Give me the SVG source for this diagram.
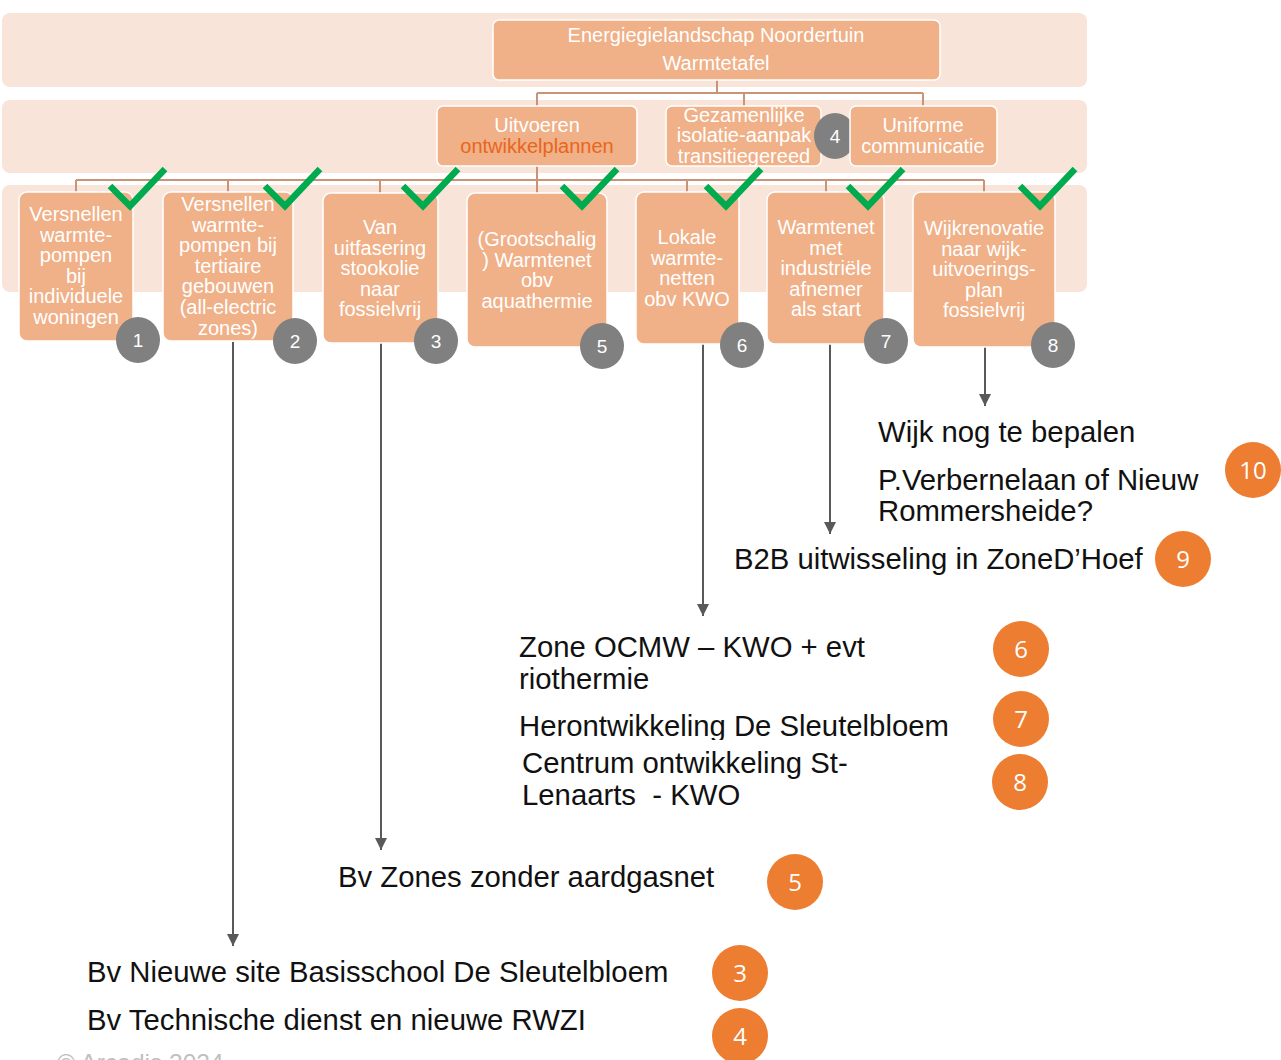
<svg xmlns="http://www.w3.org/2000/svg" width="1281" height="1060" viewBox="0 0 1281 1060">
<style>
.band{fill:#f9e4da}
.box{fill:#f0b088;stroke:#ffffff;stroke-width:1.5}
.bt{font-family:"Liberation Sans",Arial,sans-serif;font-size:20px;fill:#ffffff;text-anchor:middle}
.org{fill:#e8661c}
.tree{fill:none;stroke:#c99378;stroke-width:2}
.chk{fill:none;stroke:#00ab4f;stroke-width:6.5}
.gc{fill:#808080}
.gt{font-family:"Liberation Sans",Arial,sans-serif;font-size:19px;fill:#ffffff;text-anchor:middle}
.oc{fill:#ed7d31}
.ot{font-family:"Open Sans","Liberation Sans",sans-serif;font-size:24px;fill:#ffffff;text-anchor:middle}
.arr{fill:none;stroke:#595959;stroke-width:2;marker-end:url(#ah)}
.lbl{font-family:"Liberation Sans",Arial,sans-serif;font-size:29.3px;fill:#111111}
.foot{font-family:"Liberation Sans",Arial,sans-serif;font-size:24.5px;fill:#c0c0c0}
</style>
<defs>
<marker id="ah" viewBox="0 0 12 12" refX="12" refY="6" markerWidth="12" markerHeight="12" markerUnits="userSpaceOnUse" orient="auto">
<path d="M0,0 L12,6 L0,12 Z" fill="#595959"/>
</marker>
<clipPath id="clipH"><rect x="0" y="700" width="1281" height="40"/></clipPath>
</defs>

<g id="bands">
<rect class="band" x="2" y="13" width="1085" height="74" rx="8"/>
<rect class="band" x="2" y="100" width="1085" height="73" rx="8"/>
<rect class="band" x="2" y="185" width="1085" height="107" rx="8"/>
</g>

<g id="connectors">
<path class="tree" d="M717,80 V93 M537,93 H923 M537,93 V106 M744,93 V106 M923,93 V106"/>
<path class="tree" d="M537,166 V180 M76,180 H984 M76,180 V192 M228,180 V192 M380,180 V193 M537,180 V193 M687,180 V192 M826,180 V192 M984,180 V192"/>
<path class="arr" d="M233,342 V946"/>
<path class="arr" d="M381,343 V850"/>
<path class="arr" d="M703,344 V616"/>
<path class="arr" d="M830,344 V534"/>
<path class="arr" d="M985,347 V406"/>
</g>

<g id="node-top">
<rect class="box" x="493" y="20" width="447" height="60" rx="6"/>
<text class="bt" x="716" y="42">Energiegielandschap Noordertuin</text>
<text class="bt" x="716" y="70">Warmtetafel</text>
</g>

<g id="node-uitvoeren">
<rect class="box" x="437" y="106" width="200" height="60" rx="6"/>
<text class="bt" x="537" y="132">Uitvoeren</text>
<text class="bt org" x="537" y="153">ontwikkelplannen</text>
</g>

<g id="node-gezamenlijke">
<rect class="box" x="666" y="106" width="155" height="60" rx="6"/>
<text class="bt" x="744" y="122">Gezamenlijke</text>
<text class="bt" x="744" y="142">isolatie-aanpak</text>
<text class="bt" x="744" y="163">transitiegereed</text>
<ellipse class="gc" cx="835" cy="136" rx="21" ry="23"/>
<text class="gt" x="835" y="143">4</text>
</g>

<g id="node-uniforme">
<rect class="box" x="850" y="106" width="147" height="60" rx="6"/>
<text class="bt" x="923" y="132">Uniforme</text>
<text class="bt" x="923" y="153">communicatie</text>
</g>

<g id="node-1">
<rect class="box" x="19" y="192" width="114" height="149" rx="8"/>
<text class="bt" x="76" y="221">Versnellen</text>
<text class="bt" x="76" y="242">warmte-</text>
<text class="bt" x="76" y="262">pompen</text>
<text class="bt" x="76" y="283">bij</text>
<text class="bt" x="76" y="303">individuele</text>
<text class="bt" x="76" y="324">woningen</text>
<path class="chk" d="M110,186 L130,206 L165,169"/>
<ellipse class="gc" cx="138" cy="340" rx="22" ry="23"/>
<text class="gt" x="138" y="347">1</text>
</g>

<g id="node-2">
<rect class="box" x="163" y="192" width="130" height="149" rx="8"/>
<text class="bt" x="228" y="211">Versnellen</text>
<text class="bt" x="228" y="231.6">warmte-</text>
<text class="bt" x="228" y="252.2">pompen bij</text>
<text class="bt" x="228" y="272.8">tertiaire</text>
<text class="bt" x="228" y="293.4">gebouwen</text>
<text class="bt" x="228" y="314">(all-electric</text>
<text class="bt" x="228" y="334.6">zones)</text>
<path class="chk" d="M265,186 L285,206 L320,169"/>
<ellipse class="gc" cx="295" cy="341" rx="22" ry="23"/>
<text class="gt" x="295" y="348">2</text>
</g>

<g id="node-3">
<rect class="box" x="323" y="193" width="115" height="150" rx="8"/>
<text class="bt" x="380" y="234">Van</text>
<text class="bt" x="380" y="254.6">uitfasering</text>
<text class="bt" x="380" y="275.2">stookolie</text>
<text class="bt" x="380" y="295.8">naar</text>
<text class="bt" x="380" y="316.4">fossielvrij</text>
<path class="chk" d="M403,186 L423,206 L458,169"/>
<ellipse class="gc" cx="436" cy="341" rx="22" ry="23"/>
<text class="gt" x="436" y="348">3</text>
</g>

<g id="node-5">
<rect class="box" x="467" y="193" width="140" height="154" rx="8"/>
<text class="bt" x="537" y="246">(Grootschalig</text>
<text class="bt" x="537" y="266.6">) Warmtenet</text>
<text class="bt" x="537" y="287.2">obv</text>
<text class="bt" x="537" y="307.8">aquathermie</text>
<path class="chk" d="M562,186 L582,206 L617,169"/>
<ellipse class="gc" cx="602" cy="346" rx="22" ry="23"/>
<text class="gt" x="602" y="353">5</text>
</g>

<g id="node-6">
<rect class="box" x="636" y="192" width="103" height="152" rx="8"/>
<text class="bt" x="687" y="244">Lokale</text>
<text class="bt" x="687" y="264.6">warmte-</text>
<text class="bt" x="687" y="285.2">netten</text>
<text class="bt" x="687" y="305.8">obv KWO</text>
<path class="chk" d="M706,186 L726,206 L761,169"/>
<ellipse class="gc" cx="742" cy="345" rx="22" ry="23"/>
<text class="gt" x="742" y="352">6</text>
</g>

<g id="node-7">
<rect class="box" x="767" y="192" width="117" height="152" rx="8"/>
<text class="bt" x="826" y="234">Warmtenet</text>
<text class="bt" x="826" y="254.6">met</text>
<text class="bt" x="826" y="275.2">industriële</text>
<text class="bt" x="826" y="295.8">afnemer</text>
<text class="bt" x="826" y="316.4">als start</text>
<path class="chk" d="M848,186 L868,206 L903,169"/>
<ellipse class="gc" cx="886" cy="341" rx="22" ry="23"/>
<text class="gt" x="886" y="348">7</text>
</g>

<g id="node-8">
<rect class="box" x="913" y="192" width="142" height="155" rx="8"/>
<text class="bt" x="984" y="235">Wijkrenovatie</text>
<text class="bt" x="984" y="255.6">naar wijk-</text>
<text class="bt" x="984" y="276.2">uitvoerings-</text>
<text class="bt" x="984" y="296.8">plan</text>
<text class="bt" x="984" y="317.4">fossielvrij</text>
<path class="chk" d="M1020,186 L1040,206 L1075,169"/>
<ellipse class="gc" cx="1053" cy="345" rx="22" ry="23"/>
<text class="gt" x="1053" y="352">8</text>
</g>

<g id="labels">
<text class="lbl" x="878" y="442">Wijk nog te bepalen</text>
<text class="lbl" x="878" y="490">P.Verbernelaan of Nieuw</text>
<text class="lbl" x="878" y="521">Rommersheide?</text>
<text class="lbl" x="734" y="569">B2B uitwisseling in ZoneD’Hoef</text>
<text class="lbl" x="519" y="657">Zone OCMW – KWO + evt</text>
<text class="lbl" x="519" y="689">riothermie</text>
<text class="lbl" x="519" y="736" clip-path="url(#clipH)">Herontwikkeling De Sleutelbloem</text>
<text class="lbl" x="522" y="773">Centrum ontwikkeling St-</text>
<text class="lbl" x="522" y="805" xml:space="preserve">Lenaarts  - KWO</text>
<text class="lbl" x="338" y="887">Bv Zones zonder aardgasnet</text>
<text class="lbl" x="87" y="982">Bv Nieuwe site Basisschool De Sleutelbloem</text>
<text class="lbl" x="87" y="1030">Bv Technische dienst en nieuwe RWZI</text>
<text class="foot" x="57" y="1071">© Arcadis 2024</text>
</g>

<g id="badges">
<circle class="oc" cx="1253" cy="470" r="28"/><text class="ot" x="1253" y="479">10</text>
<circle class="oc" cx="1183" cy="559" r="28"/><text class="ot" x="1183" y="568">9</text>
<circle class="oc" cx="1021" cy="649" r="28"/><text class="ot" x="1021" y="658">6</text>
<circle class="oc" cx="1021" cy="719" r="28"/><text class="ot" x="1021" y="728">7</text>
<circle class="oc" cx="1020" cy="782" r="28"/><text class="ot" x="1020" y="791">8</text>
<circle class="oc" cx="795" cy="882" r="28"/><text class="ot" x="795" y="891">5</text>
<circle class="oc" cx="740" cy="973" r="28"/><text class="ot" x="740" y="982">3</text>
<circle class="oc" cx="740" cy="1036" r="28"/><text class="ot" x="740" y="1045">4</text>
</g>
</svg>
